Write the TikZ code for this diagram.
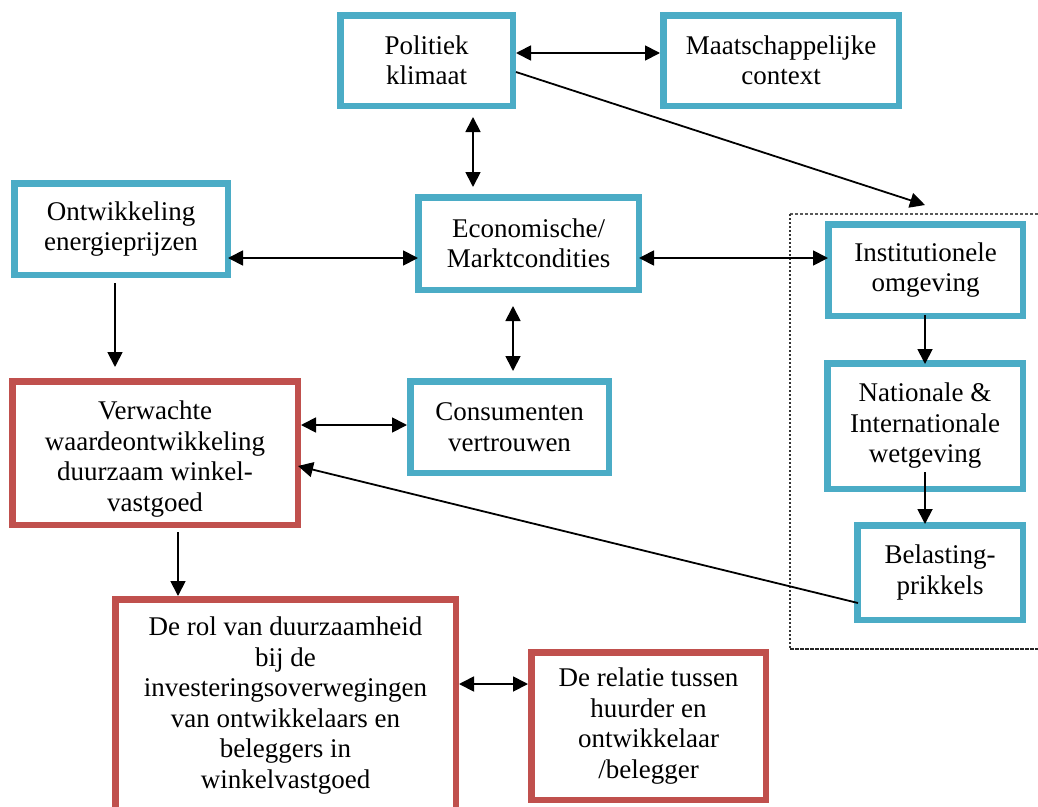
\documentclass[tikz,border=0pt]{standalone}
\usepackage{fontspec}
\setmainfont{Liberation Serif}
\usepackage{xcolor}
\usepackage{tikz}
\usetikzlibrary{arrows.meta}

\definecolor{boxblue}{HTML}{4BACC6}
\definecolor{boxred}{HTML}{C0504D}

\begin{document}
\begin{tikzpicture}[x=1pt, y=-1pt,
    blok/.style={draw=boxblue, line width=6.5pt, align=center, inner sep=0pt,
        font=\fontsize{27}{30.5}\selectfont},
    rood/.style={blok, draw=boxred},
    pijl/.style={line width=1.8pt, -{Triangle[length=15pt,width=15pt]}},
    dubbel/.style={line width=1.8pt, {Triangle[length=15pt,width=15pt]}-{Triangle[length=15pt,width=15pt]}}]
\clip (0,0) rectangle (1038,806);

\node[blok, minimum width=172.5pt, minimum height=90.5pt] (politiek) at (426.5,60.5) {Politiek\\klimaat};
\node[blok, minimum width=235.5pt, minimum height=90.5pt] (maatschappij) at (781,60.5) {Maatschappelijke\\context};
\node[blok, minimum width=213.5pt, minimum height=91.5pt] (energie) at (121,229) {Ontwikkeling\\energieprijzen};
\node[blok, minimum width=220.5pt, minimum height=92.5pt] (economie) at (528.5,243.5) {Economische/\\Marktcondities};
\node[blok, minimum width=194.5pt, minimum height=91.5pt] (institutioneel) at (925.5,270) {Institutionele\\omgeving};
\node[rood, minimum width=285.5pt, minimum height=143.5pt] (waarde) at (155,453) {\rule{0pt}{31pt}Verwachte\\waardeontwikkeling\\duurzaam winkel-\\vastgoed};
\node[blok, minimum width=198.5pt, minimum height=91.5pt] (consument) at (509.5,427) {Consumenten\\vertrouwen};
\node[blok, minimum width=195.5pt, minimum height=125.5pt] (wetgeving) at (925,426) {Nationale \&\\Internationale\\wetgeving};
\node[blok, minimum width=165.5pt, minimum height=94.5pt] (belasting) at (940,572.5) {Belasting-\\prikkels};
\node[rood, minimum width=340.5pt, minimum height=212.5pt] (rol) at (285.5,705.5) {De rol van duurzaamheid\\bij de\\investeringsoverwegingen\\van ontwikkelaars en\\beleggers in\\winkelvastgoed};
\node[rood, minimum width=234.5pt, minimum height=147.5pt] (relatie) at (648.5,726) {De relatie tussen\\huurder en\\ontwikkelaar\\/belegger};

\coordinate (groep_top) at (925,205);
\draw[gray!70!black, line width=1.5pt, dash pattern=on 3pt off 2pt] (790,214) -- (1038,214);
\draw[gray!40!black, line width=2pt, dash pattern=on 1.5pt off 2.5pt] (790,214) -- (790,649);
\draw[black!85, line width=2.5pt, dash pattern=on 3.5pt off 1.5pt] (790,649) -- (1038,649);

\draw[dubbel] ([yshift=7.5pt]politiek.east) -- ([yshift=7.5pt]maatschappij.west);
\draw[pijl] ([yshift=-11.5pt]politiek.east) -- (groep_top);
\draw[dubbel] ([xshift=46.5pt,yshift=-8pt]politiek.south) -- ([xshift=-55.5pt,yshift=7pt]economie.north);
\draw[dubbel] ([xshift=-3pt,yshift=-29pt]energie.east) -- ([xshift=3pt,yshift=-14.5pt]economie.west);
\draw[dubbel] ([xshift=-3pt,yshift=-14.5pt]economie.east) -- ([xshift=3pt,yshift=12pt]institutioneel.west);
\draw[pijl] ([xshift=-6pt,yshift=-5pt]energie.south) -- ([xshift=-40pt,yshift=11pt]waarde.north);
\draw[dubbel] ([xshift=-15.5pt,yshift=-13pt]economie.south) -- ([xshift=3.5pt,yshift=7pt]consument.north);
\draw[dubbel] ([yshift=28pt]waarde.east) -- ([yshift=2pt]consument.west);
\draw[pijl] ([xshift=-0.5pt,yshift=4pt]institutioneel.south) -- ([yshift=-4pt]wetgeving.north);
\draw[pijl] ([yshift=20pt]wetgeving.south) -- ([xshift=-15pt,yshift=-2pt]belasting.north);
\draw[pijl] ([xshift=4pt,yshift=-30.5pt]belasting.west) -- ([xshift=-3pt,yshift=-13pt]waarde.east);
\draw[pijl] ([xshift=23pt,yshift=-4pt]waarde.south) -- ([xshift=-107.5pt]rol.north);
\draw[dubbel] ([yshift=21.5pt]rol.east) -- ([yshift=42pt]relatie.west);

\end{tikzpicture}
\end{document}
